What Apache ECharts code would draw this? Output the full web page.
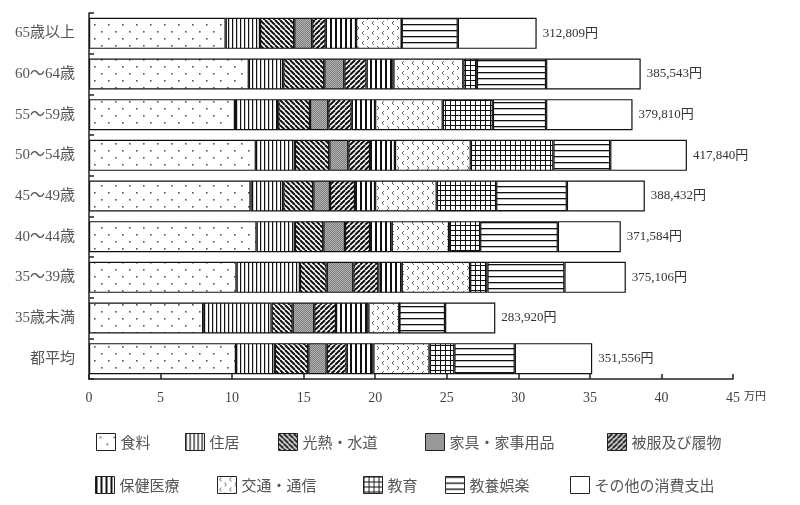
<!DOCTYPE html>
<html>
<head>
<meta charset="utf-8">
<script src="https://cdn.jsdelivr.net/npm/echarts@6/dist/echarts.min.js"></script>
<style>
  html, body { margin: 0; padding: 0; background: #fff; }
  #main { width: 800px; height: 505px; }
</style>
</head>
<body>
<div id="main"></div>
<script>
// 年齢階級別 消費支出の内訳（万円）
const categories = ['65歳以上', '60～64歳', '55～59歳', '50～54歳', '45～49歳', '40～44歳', '35～39歳', '35歳未満', '都平均']
const seriesNames = ['食料', '住居', '光熱・水道', '家具・家事用品', '被服及び履物', '保健医療', '交通・通信', '教育', '教養娯楽', 'その他の消費支出']

const food      = [9.55, 11.17, 10.20, 11.66, 11.29, 11.71, 10.31, 7.98, 10.27]
const housing   = [2.40, 2.40, 3.02, 2.73, 2.28, 2.68, 4.43, 4.78, 2.72]
const utility   = [2.39, 2.87, 2.22, 2.40, 2.10, 1.98, 1.87, 1.47, 2.33]
const furniture = [1.26, 1.40, 1.28, 1.33, 1.17, 1.52, 1.86, 1.51, 1.29]
const clothing  = [0.94, 1.56, 1.64, 1.52, 1.75, 1.75, 1.75, 1.52, 1.40]
const medical   = [2.12, 1.87, 1.63, 1.74, 1.40, 1.51, 1.63, 2.26, 1.86]
const transport = [3.19, 4.89, 4.73, 5.30, 4.31, 4.01, 4.78, 2.17, 3.93]
const education = [0, 0.94, 3.50, 5.77, 4.15, 2.17, 1.21, 0, 1.73]
const culture   = [3.92, 4.84, 3.72, 3.97, 4.94, 5.43, 5.38, 3.19, 4.22]
const others    = [5.51, 6.61, 6.04, 5.36, 5.45, 4.40, 4.29, 3.51, 5.41]

const totals = [312809, 385543, 379810, 417840, 388432, 371584, 375106, 283920, 351556]
const xTicks = [0, 5, 10, 15, 20, 25, 30, 35, 40, 45]

// パターン塗り（白黒の網掛け）
function makePattern(w, h, draw) {
  const c = document.createElement('canvas')
  c.width = w
  c.height = h
  const ctx = c.getContext('2d')
  ctx.fillStyle = '#fff'
  ctx.fillRect(0, 0, w, h)
  draw(ctx, w, h)
  return { image: c, repeat: 'repeat' }
}

const patterns = [
  // 食料: 点
  makePattern(14, 14, (ctx) => {
    ctx.fillStyle = '#555'
    ctx.fillRect(3, 3, 1.6, 1.6)
    ctx.fillRect(10, 10, 1.6, 1.6)
  }),
  // 住居: 縦線
  makePattern(4, 4, (ctx) => {
    ctx.fillStyle = '#111'
    ctx.fillRect(0, 0, 1.2, 4)
  }),
  // 光熱・水道: 右下がり斜線
  makePattern(5, 5, (ctx, s) => {
    ctx.strokeStyle = '#111'
    ctx.lineWidth = 2
    for (let x = -s; x <= s; x += s) {
      ctx.beginPath(); ctx.moveTo(x, 0); ctx.lineTo(x + s, s); ctx.stroke()
    }
  }),
  // 家具・家事用品: 灰色
  makePattern(2, 2, (ctx) => {
    ctx.fillStyle = '#808080'
    ctx.fillRect(0, 0, 2, 2)
    ctx.fillStyle = '#b0b0b0'
    ctx.fillRect(0, 0, 1, 1)
    ctx.fillRect(1, 1, 1, 1)
  }),
  // 被服及び履物: 右上がり斜線
  makePattern(5, 5, (ctx, s) => {
    ctx.strokeStyle = '#111'
    ctx.lineWidth = 2
    for (let x = -s; x <= s; x += s) {
      ctx.beginPath(); ctx.moveTo(x, s); ctx.lineTo(x + s, 0); ctx.stroke()
    }
  }),
  // 保健医療: 太い縦線
  makePattern(5, 4, (ctx) => {
    ctx.fillStyle = '#111'
    ctx.fillRect(0, 0, 2, 4)
  }),
  // 交通・通信: 小さな記号
  makePattern(10, 10, (ctx) => {
    ctx.strokeStyle = '#666'
    ctx.lineWidth = 1
    ctx.beginPath(); ctx.moveTo(4, 1); ctx.lineTo(2, 3); ctx.lineTo(4, 5); ctx.stroke()
    ctx.beginPath(); ctx.moveTo(7, 6); ctx.lineTo(9, 8); ctx.lineTo(7, 10); ctx.stroke()
  }),
  // 教育: 格子
  makePattern(5, 5, (ctx) => {
    ctx.fillStyle = '#111'
    ctx.fillRect(0, 0, 5, 1)
    ctx.fillRect(0, 0, 1, 5)
  }),
  // 教養娯楽: 横線
  makePattern(4, 6, (ctx) => {
    ctx.fillStyle = '#111'
    ctx.fillRect(0, 0, 4, 1.3)
  }),
  // その他の消費支出: 白
  '#fff'
]

const values = [food, housing, utility, furniture, clothing, medical, transport, education, culture, others]

const fmt = (n) => String(n).replace(/\B(?=(\d{3})+(?!\d))/g, ',')

const series = seriesNames.map((name, i) => ({
  name: name,
  type: 'bar',
  stack: 'total',
  barWidth: 31,
  data: values[i],
  itemStyle: { color: patterns[i], borderColor: '#111', borderWidth: 1.2 },
  emphasis: { disabled: true },
  label: i === seriesNames.length - 1 ? {
    show: true,
    position: 'right',
    distance: 6,
    color: '#333',
    fontSize: 13,
    fontFamily: "'Liberation Serif', 'Noto Sans CJK JP'",
    formatter: p => fmt(totals[p.dataIndex]) + '円'
  } : { show: false }
}))

// 凡例の位置（アイコン左端）
const legendPos = [
  [91, 428], [180, 428], [273, 428], [420, 428], [602, 428],
  [90, 471], [212, 471], [358, 471], [440, 471], [565, 471]
]
const legends = seriesNames.map((name, i) => ({
  data: [{ name: name, icon: 'rect' }],
  left: legendPos[i][0],
  top: legendPos[i][1],
  itemWidth: 19,
  itemHeight: 17,
  itemGap: 6,
  selectedMode: false,
  textStyle: { fontSize: 15, color: '#555', fontFamily: 'Noto Sans CJK JP' },
  itemStyle: { borderColor: '#222', borderWidth: 1 }
}))

const myChart = echarts.init(document.getElementById('main'))
myChart.setOption({
  animation: false,
  backgroundColor: '#fff',
  legend: legends,
  grid: { left: 89, right: 67, top: 13, height: 366 },
  xAxis: {
    type: 'value',
    min: xTicks[0],
    max: xTicks[xTicks.length - 1],
    interval: 5,
    axisLine: { show: true, lineStyle: { color: '#222', width: 1.5 } },
    axisTick: { show: true, inside: true, length: 5, lineStyle: { color: '#222', width: 1.5 } },
    splitLine: { show: false },
    axisLabel: { color: '#444', fontSize: 14, margin: 12, fontFamily: "'Liberation Serif', serif" }
  },
  yAxis: {
    type: 'category',
    inverse: true,
    data: categories,
    axisLine: { show: true, lineStyle: { color: '#222', width: 1.5 } },
    axisTick: { show: true, inside: true, length: 5, lineStyle: { color: '#222', width: 1.5 } },
    axisLabel: { color: '#555', fontSize: 15, margin: 14, fontFamily: "'Liberation Serif', 'Noto Sans CJK JP'" }
  },
  graphic: [{
    type: 'text',
    left: 744,
    top: 390,
    style: { text: '万円', fontSize: 11, fill: '#333', fontFamily: 'Noto Sans CJK JP' }
  }],
  series: series
})
window.addEventListener('resize', () => {
  myChart.resize()
})
</script>
</body>
</html>
